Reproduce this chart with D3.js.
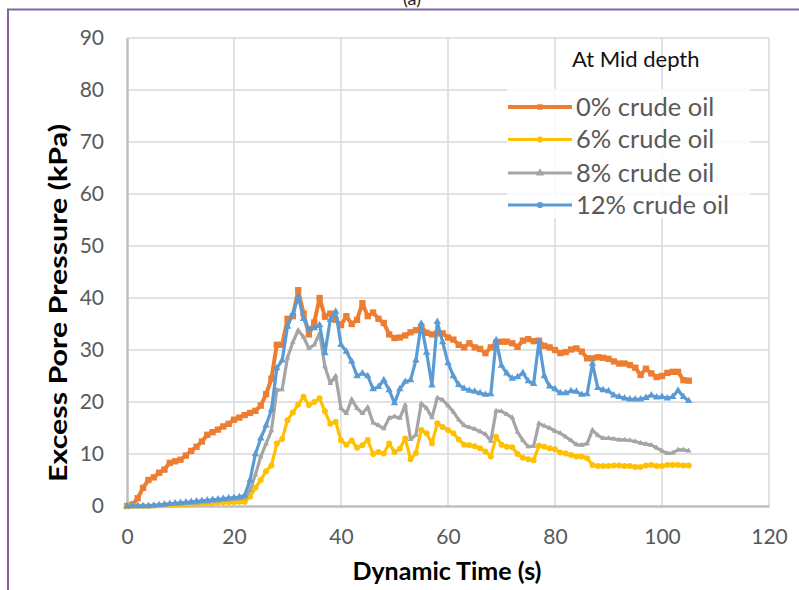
<!DOCTYPE html>
<html>
<head>
<meta charset="utf-8">
<script src="https://cdn.jsdelivr.net/npm/d3@7"></script>
<style>
  html, body { margin: 0; padding: 0; background: #fff; }
  svg { display: block; }
</style>
</head>
<body>
<svg id="chart" width="799" height="590"></svg>
<script>
// Sampling instants (s) shared by all four records
const times = d3.range(0, 106, 1);

// Excess pore pressure (kPa) at mid depth
const oil0 = [0,0.3,1.5,3.5,5.0,5.5,6.4,7.0,8.3,8.6,8.9,9.7,10.6,11.4,12.4,13.7,14.2,14.7,15.3,15.8,
  16.6,17.0,17.5,17.9,18.3,19.3,21.5,24.5,31.0,31.0,36.0,36.5,41.5,37.0,33.0,35.3,40.0,36.4,37.0,35.8,
  34.8,36.5,35.0,35.8,39.0,36.5,37.2,36.0,35.2,33.0,32.3,32.4,32.8,33.4,33.8,34.5,33.3,33.0,33.2,33.2,
  32.4,32.0,31.0,30.5,31.3,30.5,30.2,29.4,30.5,31.4,31.6,31.6,31.3,30.6,31.8,32.1,31.7,31.8,30.8,30.5,
  30.0,29.4,29.6,30.1,30.3,29.7,28.4,28.4,28.6,28.5,28.3,27.8,27.4,27.4,27.1,26.6,25.2,26.4,25.5,24.8,
  25.0,25.6,25.8,25.8,24.2,24.1];

const oil6 = [0,0,0,0,0,0.05,0.1,0.15,0.2,0.25,0.3,0.35,0.4,0.45,0.5,0.55,0.6,0.65,0.7,0.7,
  0.75,0.8,0.8,1.8,3.5,5.0,6.7,7.8,12.0,12.9,16.5,18.0,19.5,21.0,19.4,20.0,20.7,18.2,15.8,16.2,
  12.6,11.8,12.6,11.2,11.7,12.7,10.0,10.4,10.1,12.0,10.4,11.0,13.0,9.0,10.2,14.6,14.0,12.0,15.9,15.2,
  14.6,14.0,12.8,11.8,11.7,11.5,11.1,10.5,9.5,13.3,11.8,11.4,11.3,10.0,9.3,9.0,8.8,11.6,11.4,11.1,
  10.9,10.3,10.1,9.8,9.5,9.5,9.2,7.9,7.7,7.7,7.7,7.8,7.8,7.7,7.7,7.5,7.5,7.8,7.9,7.7,
  7.7,7.9,7.9,7.9,7.8,7.8];

const oil8 = [0,0,0,0,0,0.1,0.15,0.2,0.3,0.35,0.4,0.5,0.55,0.6,0.7,0.8,0.9,1.0,1.1,1.2,
  1.3,1.4,1.5,3.0,6.0,9.5,12.0,14.5,22.3,22.4,28.5,31.5,33.8,32.5,30.3,31.0,33.2,26.8,23.6,25.0,
  18.8,17.8,20.5,18.8,17.8,19.0,16.0,15.5,14.9,16.9,17.2,16.9,19.4,12.8,13.7,19.7,18.8,17.0,20.8,20.4,
  19.3,18.1,16.6,15.5,15.1,14.8,14.3,13.8,12.5,18.3,18.2,17.6,17.0,14.2,12.6,11.4,11.5,15.9,15.4,15.0,
  14.4,14.0,13.3,12.6,11.8,11.7,12.0,14.6,13.6,13.0,13.0,12.9,12.7,12.7,12.6,12.4,12.1,11.9,11.7,11.2,
  10.6,10.1,10.2,10.8,10.8,10.6];

const oil12 = [0,0,0,0,0,0.1,0.2,0.3,0.4,0.5,0.6,0.7,0.8,0.9,1.0,1.1,1.2,1.3,1.4,1.5,
  1.6,1.7,2.0,5.0,10.0,13.0,15.5,18.5,26.5,28.0,34.5,37.0,40.3,36.0,34.0,34.2,34.8,29.4,35.8,37.4,
  31.0,29.7,27.8,25.0,25.5,25.0,22.5,22.9,24.2,22.3,19.8,22.5,23.9,24.2,28.0,35.1,29.5,23.2,35.4,31.5,
  27.5,25.0,23.3,22.6,22.2,22.0,21.7,21.4,21.5,31.9,27.0,25.5,24.5,24.8,25.6,24.0,23.5,31.6,25.0,23.0,
  22.5,21.7,21.7,22.1,22.0,21.4,21.5,27.4,22.7,22.3,22.1,21.3,21.0,20.7,20.5,20.5,20.5,20.8,21.3,20.9,
  21.0,20.7,21.0,22.2,21.0,20.2];

const seriesNames = ["0% crude oil", "6% crude oil", "8% crude oil", "12% crude oil"];
const seriesColors = ["#ed7d31", "#ffc000", "#a5a5a5", "#5b9bd5"];
const xTicks = [0, 20, 40, 60, 80, 100, 120];
const yTicks = [0, 10, 20, 30, 40, 50, 60, 70, 80, 90];

const svg = d3.select("#chart");
const font = "Lato, 'Open Sans', sans-serif";

// Outer frame of the figure panel, with the panel tag above it
svg.append("text").attr("x", 412).attr("y", 5).attr("text-anchor", "middle")
  .attr("font-family", font).attr("font-size", 18).attr("fill", "#222").text("(a)");
svg.append("path").attr("d", "M8,600 V9.5 H810")
  .attr("fill", "none").attr("stroke", "#8064a2").attr("stroke-width", 2);

const plot = { left: 127, top: 38, right: 769, bottom: 506 };
const x = d3.scaleLinear().domain([0, 120]).range([plot.left, plot.right]);
const y = d3.scaleLinear().domain([0, 90]).range([plot.bottom, plot.top]);

// Gridlines
const grid = svg.append("g");
grid.selectAll("line.h").data(yTicks.slice(1)).join("line")
  .attr("x1", plot.left).attr("x2", plot.right)
  .attr("y1", d => y(d)).attr("y2", d => y(d))
  .attr("stroke", "#d9d9d9").attr("stroke-width", 1.5);
grid.selectAll("line.v").data(xTicks.slice(1)).join("line")
  .attr("y1", plot.top).attr("y2", plot.bottom)
  .attr("x1", d => x(d)).attr("x2", d => x(d))
  .attr("stroke", "#d9d9d9").attr("stroke-width", 1.5);

// Axes
const xAxis = svg.append("g").attr("transform", `translate(0,${plot.bottom})`)
  .call(d3.axisBottom(x).tickValues(xTicks).tickSize(0).tickPadding(31));
const yAxis = svg.append("g").attr("transform", `translate(${plot.left},0)`)
  .call(d3.axisLeft(y).tickValues(yTicks).tickSize(0).tickPadding(23));
[xAxis, yAxis].forEach(g => {
  g.select(".domain").attr("stroke", "#bfbfbf").attr("stroke-width", 2.5);
  g.selectAll("text").attr("font-family", font).attr("font-size", 21).attr("fill", "#595959");
});
xAxis.selectAll("text").attr("dy", "0.35em");

// Series lines and markers
const records = [oil0, oil6, oil8, oil12];
const line = d3.line().x((d, i) => x(times[i])).y(d => y(d));
const widths = [4, 3.2, 3.2, 3.2];
const symbols = [d3.symbolSquare, d3.symbolCircle, d3.symbolTriangle, d3.symbolTriangle];
const symSizes = [40, 28, 14, 24];

records.forEach((vals, k) => {
  const g = svg.append("g");
  g.append("path").datum(vals).attr("d", line)
    .attr("fill", "none").attr("stroke", seriesColors[k])
    .attr("stroke-width", widths[k]).attr("stroke-linejoin", "round");
  g.selectAll("path.m").data(vals).join("path").attr("class", "m")
    .attr("transform", (d, i) => `translate(${x(times[i])},${y(d)})`)
    .attr("d", d3.symbol().type(symbols[k]).size(symSizes[k]))
    .attr("fill", seriesColors[k]);
});

// Axis titles
svg.append("text").attr("x", 447).attr("y", 580).attr("text-anchor", "middle")
  .attr("font-family", font).attr("font-weight", "bold").attr("font-size", 24)
  .attr("textLength", 189).attr("lengthAdjust", "spacingAndGlyphs")
  .attr("fill", "#000").text("Dynamic Time (s)");
svg.append("text").attr("transform", "translate(67,303) rotate(-90)").attr("text-anchor", "middle")
  .attr("font-family", font).attr("font-weight", "bold").attr("font-size", 24)
  .attr("textLength", 358).attr("lengthAdjust", "spacingAndGlyphs")
  .attr("fill", "#000").text("Excess Pore Pressure (kPa)");

// Legend
svg.append("text").attr("x", 572).attr("y", 67).attr("font-family", font)
  .attr("font-size", 22).attr("fill", "#111").text("At Mid depth");
svg.append("rect").attr("x", 507).attr("y", 89).attr("width", 243).attr("height", 129)
  .attr("fill", "#fff").attr("fill-opacity", 0.85);
const legendRows = [107, 139.5, 173, 205];
const legendSymbols = [d3.symbolSquare, d3.symbolCircle, d3.symbolTriangle, d3.symbolCircle];
seriesNames.forEach((name, k) => {
  const ly = legendRows[k];
  svg.append("line").attr("x1", 508).attr("x2", 572).attr("y1", ly).attr("y2", ly)
    .attr("stroke", seriesColors[k]).attr("stroke-width", widths[k]);
  svg.append("path").attr("transform", `translate(540,${ly})`)
    .attr("d", d3.symbol().type(legendSymbols[k]).size(30)).attr("fill", seriesColors[k]);
  svg.append("text").attr("x", 576).attr("y", ly).attr("dy", "0.35em")
    .attr("font-family", font).attr("font-size", 25.5).attr("fill", "#595959").text(name);
});
</script>
</body>
</html>
